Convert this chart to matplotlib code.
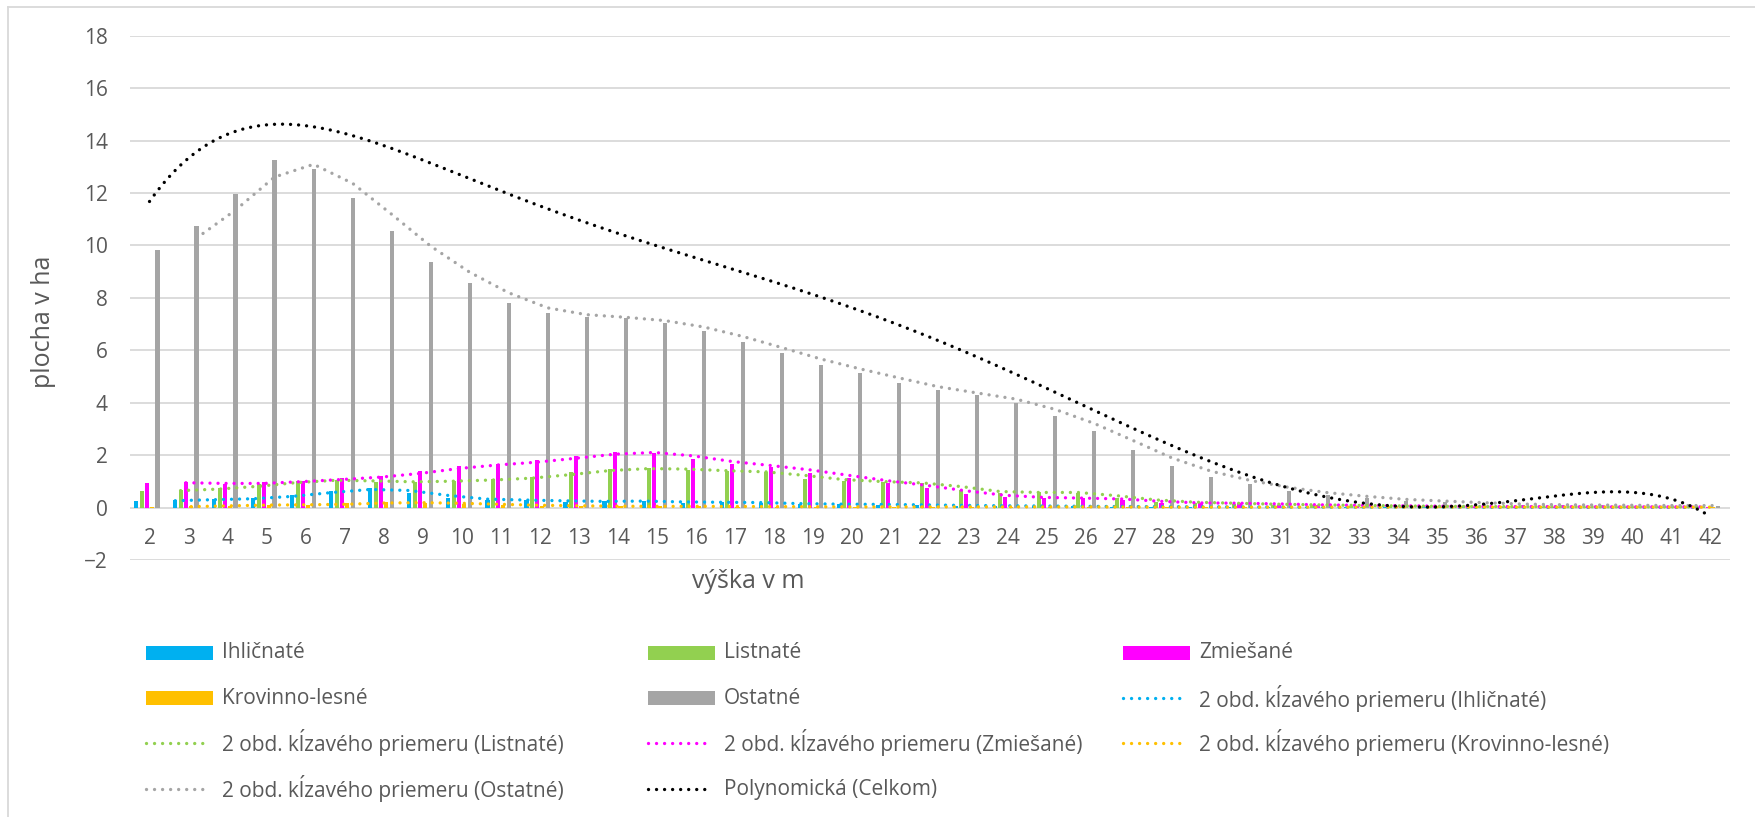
import numpy as np
import matplotlib
matplotlib.use("Agg")
import matplotlib.pyplot as plt
from matplotlib.patches import Rectangle
from matplotlib.lines import Line2D

plt.rcParams['font.family'] = ['Open Sans', 'DejaVu Sans']

# ---------------- data ----------------
vysky = list(range(2, 43))  # výška v m

ihlicnate = [0.24, 0.29, 0.32, 0.36, 0.50, 0.65, 0.74, 0.57, 0.36, 0.29,
             0.29, 0.23, 0.25, 0.25, 0.19, 0.22, 0.17, 0.14, 0.13, 0.12,
             0.10, 0.08, 0.07, 0.06, 0.05, 0.04, 0.04, 0.03, 0.03, 0.02,
             0.02, 0.02, 0.02, 0.01, 0.01, 0.01, 0.01, 0.01, 0.01, 0.01, 0.01]
listnate = [0.62, 0.68, 0.74, 0.89, 1.03, 1.06, 0.98, 0.99, 1.03, 1.08,
            1.17, 1.35, 1.48, 1.50, 1.44, 1.38, 1.35, 1.11, 1.03, 0.96,
            0.93, 0.68, 0.55, 0.61, 0.55, 0.36, 0.23, 0.19, 0.15, 0.12,
            0.10, 0.08, 0.06, 0.05, 0.04, 0.04, 0.04, 0.03, 0.03, 0.03, 0.03]
zmiesane = [0.94, 0.96, 0.89, 0.96, 1.03, 1.12, 1.21, 1.40, 1.59, 1.67,
            1.80, 1.97, 2.11, 2.10, 1.85, 1.67, 1.54, 1.34, 1.12, 0.93,
            0.76, 0.52, 0.42, 0.36, 0.37, 0.29, 0.19, 0.17, 0.17, 0.12,
            0.10, 0.08, 0.07, 0.05, 0.04, 0.04, 0.04, 0.03, 0.03, 0.03, 0.03]
krovinno = [0.02, 0.06, 0.08, 0.12, 0.10, 0.16, 0.20, 0.18, 0.15, 0.10,
            0.08, 0.06, 0.05, 0.05, 0.05, 0.04, 0.04, 0.03, 0.03, 0.03,
            0.03, 0.03, 0.03, 0.03, 0.03, 0.02, 0.02, 0.02, 0.02, 0.02,
            0.02, 0.02, 0.02, 0.02, 0.02, 0.02, 0.02, 0.02, 0.02, 0.02, 0.02]
ostatne = [9.82, 10.74, 11.96, 13.26, 12.93, 11.81, 10.57, 9.38, 8.58, 7.81,
           7.43, 7.29, 7.23, 7.04, 6.74, 6.32, 5.89, 5.45, 5.14, 4.76,
           4.47, 4.28, 4.00, 3.50, 2.93, 2.19, 1.60, 1.18, 0.90, 0.64,
           0.50, 0.36, 0.27, 0.23, 0.15, 0.12, 0.10, 0.10, 0.08, 0.08, 0.08]

series_names = ['Ihličnaté', 'Listnaté', 'Zmiešané', 'Krovinno-lesné', 'Ostatné']
series_values = [ihlicnate, listnate, zmiesane, krovinno, ostatne]
series_colors = ['#00B0F0', '#92D050', '#FF00FF', '#FFC000', '#A5A5A5']

y_ticks = list(range(-2, 19, 2))

# ---------------- figure ----------------
W, H = 1756, 817
fig = plt.figure(figsize=(W / 100, H / 100), dpi=100)
fig.patch.set_facecolor('white')

def fx(px):
    return px / W

def fy(py):
    return 1 - py / H

ax_left, ax_right, ax_top, ax_bottom = 130, 1730, 35.7, 560.1
ax = fig.add_axes([fx(ax_left), fy(ax_bottom), fx(ax_right - ax_left), (ax_bottom - ax_top) / H])
ax.set_xlim(1.5, 42.5)
ax.set_ylim(-2, 18)
for s in ax.spines.values():
    s.set_visible(False)

grid_c = '#D9D9D9'
for t in y_ticks:
    ax.axhline(t, color=grid_c, lw=1.3, zorder=0)

x = np.array(vysky, dtype=float)
slot = 0.136
offsets = [-2.5, -1.5, -0.5, 0.5, 1.5]
bar_w = 0.105

for vals, col, off in zip(series_values, series_colors, offsets):
    ax.bar(x + off * slot, vals, width=bar_w, color=col, zorder=2)

dot = dict(lw=2.4, linestyle=(0, (0.01, 2.4)), dash_capstyle='round', solid_capstyle='round')

# moving averages (period 2)
for vals, col, off in zip(series_values, series_colors, offsets):
    v = np.array(vals)
    ma = (v[1:] + v[:-1]) / 2
    ax.plot(x[1:] + off * slot, ma, color=col, zorder=3, **dot)

# polynomial trendline of total
celkom = np.sum(np.array(series_values), axis=0)
idx = np.arange(1, len(vysky) + 1)
coef = np.polyfit(idx, celkom, 6)
xs = np.linspace(1, len(vysky), 600)
ax.plot(xs + 1, np.polyval(coef, xs), color='black', zorder=4, **dot)

# ticks
ax.set_yticks(y_ticks)
ax.set_xticks(vysky)
ax.set_xticklabels([str(v) for v in vysky])
ax.tick_params(axis='y', length=0, pad=16, labelsize=15, labelcolor='#595959')
ax.tick_params(axis='x', length=0, pad=15, labelsize=15, labelcolor='#595959')
ax.spines['bottom'].set_position(('data', 0))

# axis titles
fig.text(fx(748), fy(582), 'výška v m', ha='center', va='center', fontsize=18, color='#595959')
fig.text(fx(44), fy(322), 'plocha v ha', ha='center', va='center', rotation=90,
         fontsize=18, color='#595959')

# legend (manual, 3 columns)
cols_x = [146, 648, 1123]
rows_y = [653, 698, 743, 789]
entries = [
    ('bar', 0), ('bar', 1), ('bar', 2),
    ('bar', 3), ('bar', 4), ('ma', 0),
    ('ma', 1), ('ma', 2), ('ma', 3),
    ('ma', 4), ('poly', None),
]
for i, (kind, k) in enumerate(entries):
    r, c = divmod(i, 3)
    x0, y0 = cols_x[c], rows_y[r]
    if kind == 'bar':
        fig.add_artist(Rectangle((fx(x0), fy(y0 + 7)), 67 / W, 14 / H,
                                 transform=fig.transFigure, color=series_colors[k], lw=0))
        label = series_names[k]
    else:
        col = 'black' if kind == 'poly' else series_colors[k]
        fig.add_artist(Line2D([fx(x0), fx(x0 + 62)], [fy(y0), fy(y0)],
                              transform=fig.transFigure, color=col, **dot))
        label = 'Polynomická (Celkom)' if kind == 'poly' else \
            f'2 obd. kĺzavého priemeru ({series_names[k]})'
    fig.text(fx(x0 + 76), fy(y0), label, ha='left', va='center', fontsize=15, color='#595959')

# chart border (top & left visible)
fig.add_artist(Line2D([fx(8), 1], [fy(7), fy(7)], transform=fig.transFigure, color=grid_c, lw=1.3))
fig.add_artist(Line2D([fx(8), fx(8)], [fy(7), 0], transform=fig.transFigure, color=grid_c, lw=1.3))

fig.savefig('out.png', dpi=100, facecolor='white')
